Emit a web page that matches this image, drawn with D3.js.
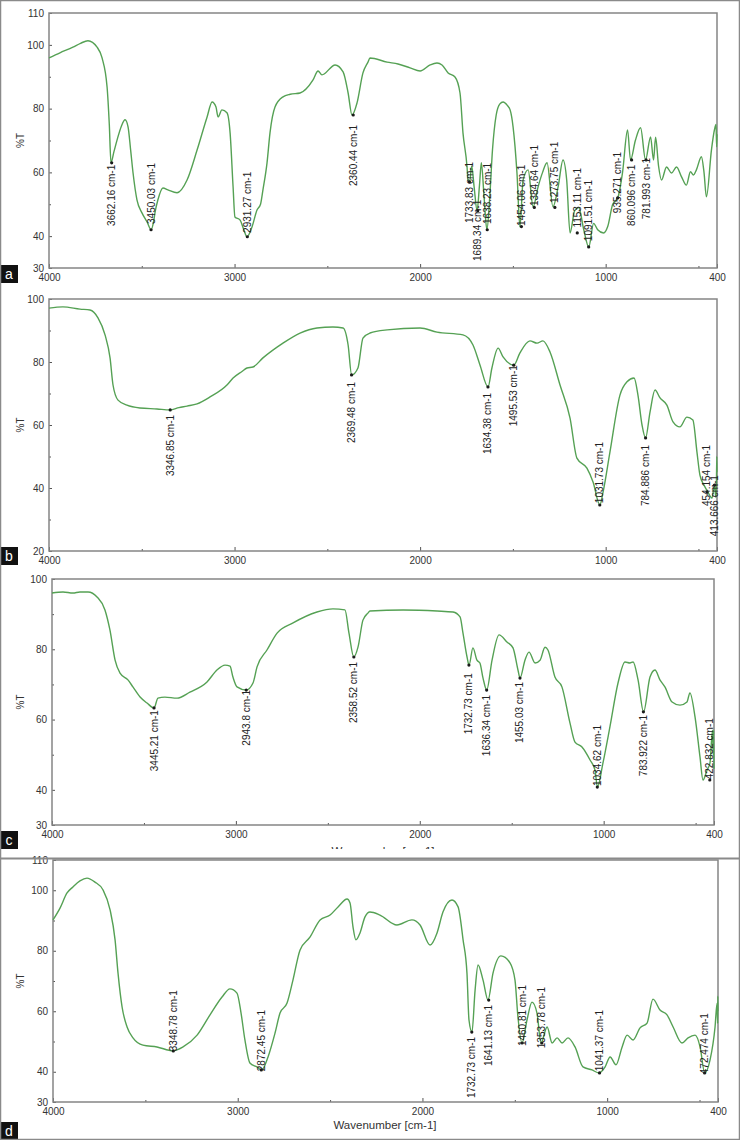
<!DOCTYPE html>
<html>
<head>
<meta charset="utf-8">
<script src="https://d3js.org/d3.v7.min.js"></script>
<style>
  body { margin: 0; background: #fff; }
  svg { display: block; font-family: "Liberation Sans", Arial, sans-serif; }
</style>
</head>
<body>
<div id="chart"></div>
<script>
// spectra: [wavenumber cm-1, %T]
var specA = [[4000,95.9],[3941,97.5],[3871,99.3],[3830,100.5],[3790,101.3],[3741,99.3],[3714,95.9],[3687,86.8],[3675,75],[3666,63],[3650,66.5],[3633,70.2],[3610,74.5],[3590,76.5],[3574,74.3],[3560,67],[3547,59.8],[3526,51.4],[3499,47.3],[3472,44.5],[3450,42],[3435,45],[3429,47.3],[3413,51.4],[3386,55.1],[3359,54.5],[3310,53.6],[3256,57.6],[3202,67],[3148,77.4],[3121,82.1],[3100,80.5],[3089,77.4],[3068,79.6],[3041,78.7],[3024,72.4],[3008,55.5],[2998,46],[2971,45.1],[2950,42],[2933,39.8],[2906,42.9],[2879,48.2],[2860,50],[2847,54.5],[2825,63],[2809,72.4],[2782,80.5],[2739,83.7],[2700,84.5],[2647,84.9],[2577,89],[2550,91.8],[2529,90.6],[2458,93.7],[2415,91.5],[2388,84.9],[2367,78],[2340,81.8],[2308,91.2],[2281,94.6],[2270,95.9],[2178,94.6],[2119,94],[2054,92.8],[2000,91.8],[1946,93.7],[1909,94.3],[1882,93.7],[1849,91.2],[1812,89.9],[1785,84.9],[1769,72.4],[1747,61.7],[1742,57.6],[1733,57],[1722,62],[1709,55.5],[1693,48],[1680,56],[1670,63],[1655,52],[1640,42],[1625,52],[1610,67],[1590,78],[1570,81.5],[1553,82.1],[1530,81],[1515,79.6],[1499,74.3],[1478,59.8],[1462,42.9],[1445,57.6],[1418,60.8],[1391,49.2],[1364,55.5],[1340,60],[1316,63],[1284,49.2],[1256,55.5],[1230,63.9],[1210,57.6],[1192,41],[1167,48],[1145,49],[1118,42],[1091,36.6],[1065,44],[1043,42],[1011,41],[989,43],[962,50],[935,52],[909,60],[882,73.3],[866,63.9],[840,70],[812,74],[785,63.9],[758,71.1],[742,63.9],[731,71],[715,62],[699,57.6],[672,61.7],[645,59.8],[618,61.7],[591,58.6],[565,56],[543,60.2],[527,59.2],[511,60.8],[484,64.9],[470,60],[457,52.3],[430,67],[414,73.3],[405,75],[402,68],[400,72]];

var specB = [[4000,97.1],[3925,97.5],[3833,96.8],[3779,96.5],[3736,94],[3698,88.6],[3671,81.3],[3655,72.7],[3628,67.9],[3580,66.3],[3510,65.4],[3418,65.1],[3348,64.8],[3300,65.5],[3256,66],[3202,66.7],[3132,68.9],[3041,72.7],[3008,74.9],[2960,77],[2933,78.1],[2901,78.4],[2847,81.3],[2739,86],[2647,89.2],[2556,90.8],[2470,91.1],[2415,90.8],[2388,85.4],[2369,75.9],[2335,78.1],[2308,87.6],[2270,89.2],[2178,90.2],[2000,90.8],[1909,89.5],[1769,88.6],[1715,85.4],[1677,79],[1634,72.1],[1613,78.1],[1580,84.4],[1553,81.6],[1495,79],[1462,82.9],[1408,86.7],[1370,86],[1338,86.7],[1300,83.2],[1246,72.7],[1192,62.2],[1155,49.5],[1101,46.3],[1068,41.9],[1031,34.6],[1014,38.7],[977,51.4],[923,69.5],[885,73.7],[847,74.9],[826,69.5],[804,60],[785,55.9],[761,64.1],[734,71.1],[707,68.6],[670,66.3],[637,61],[600,59.4],[562,62.5],[530,61.6],[508,51.4],[492,44.1],[470,40.9],[449,38.7],[427,36.8],[414,40.9],[406,37],[403,42],[401,50],[400,45]];

var specC = [[4000,96],[3940,96.3],[3886,96],[3848,96.3],[3804,96.3],[3755,94.9],[3712,91.2],[3685,85.5],[3657,76.9],[3630,73.2],[3587,71.3],[3560,69.3],[3521,66.4],[3483,64.7],[3445,63.3],[3424,66.1],[3386,66.4],[3320,66.1],[3250,67.8],[3157,70.7],[3103,74.1],[3059,75.5],[3032,75.2],[3016,72.1],[2994,69.3],[2944,68.4],[2907,70.4],[2885,75],[2831,79.8],[2776,84.6],[2689,87.5],[2559,90.6],[2472,91.5],[2407,91.2],[2385,84.6],[2359,77.8],[2336,80.6],[2309,88.3],[2282,90.3],[2271,90.9],[2091,91.2],[1906,90.9],[1819,90.6],[1781,89.2],[1765,84.6],[1743,77.8],[1732,75.5],[1711,80.4],[1689,76.9],[1673,76.1],[1656,71.8],[1636,68.4],[1607,76.9],[1569,84.1],[1526,82.1],[1493,80.4],[1466,74.1],[1455,71.8],[1428,76.9],[1406,79.2],[1373,76.1],[1346,76.9],[1319,80.6],[1303,79.8],[1265,72.1],[1227,69.3],[1183,59],[1156,53.6],[1118,52.2],[1074,48.5],[1047,45.6],[1034,40.8],[1004,47.6],[966,57.9],[922,70.4],[884,76.4],[857,76.1],[840,76.4],[813,71.3],[783,62.2],[748,72.1],[721,74.1],[694,71.3],[667,69.3],[628,65],[585,64.1],[547,65],[531,67.6],[503,60.7],[476,49.3],[460,42.8],[438,45.6],[422,47.6],[408,57],[404,50],[402,57],[400,46]];

var specD = [[4000,90.2],[3962,94.1],[3924,99.1],[3892,101.1],[3854,103.1],[3816,104],[3773,102.7],[3729,100.1],[3691,93.5],[3664,83.6],[3648,72.6],[3626,61.4],[3599,54.8],[3567,51.2],[3513,48.8],[3437,48.2],[3350,46.9],[3296,48.2],[3220,52.1],[3150,58.8],[3085,64.7],[3042,67.4],[3004,66],[2982,59.4],[2961,50.5],[2934,42.9],[2896,41.6],[2870,40.6],[2836,44.9],[2798,52.8],[2771,59.4],[2733,62.7],[2701,70.3],[2663,80.2],[2609,84.5],[2554,90.2],[2500,91.8],[2457,94.5],[2408,97.1],[2392,95.8],[2376,87.9],[2360,83.6],[2338,85.9],[2311,91.2],[2284,92.8],[2230,91.8],[2138,88.5],[2057,90.2],[2013,88.5],[1959,81.9],[1921,85.9],[1889,92.8],[1840,96.8],[1807,94.5],[1780,83.6],[1759,72.6],[1748,57.1],[1732,53.1],[1715,67],[1699,75.3],[1672,70.3],[1645,63.7],[1618,72.6],[1575,78.3],[1526,76],[1499,70.3],[1483,58.1],[1461,49.5],[1434,57.1],[1407,63],[1380,59.4],[1358,49.5],[1325,54.8],[1298,49.5],[1271,51.2],[1244,49.5],[1212,51.2],[1174,48.2],[1131,41.6],[1082,40.6],[1044,39.6],[1011,41.6],[984,44.9],[952,42.3],[919,48.2],[892,52.1],[860,50.5],[822,54.5],[784,56.1],[752,64],[714,60.4],[676,58.8],[643,54.8],[595,49.5],[562,51.2],[524,52.1],[497,48.2],[472,39.6],[443,43.9],[416,54.8],[405,62.7],[402,56],[401,65],[400,60]];

// peak labels: [wavenumber, %T at marker, %T at top of text, text]
var peaksA = [[3662.16,63,62.4,"3662.16 cm-1"],[3450.03,42,63,"3450.03 cm-1"],[2931.27,39.8,60.2,"2931.27 cm-1"],[2360.44,78,74.9,"2360.44 cm-1"],[1733.83,57,63.3,"1733.83 cm-1"],[1689.34,48,51.4,"1689.34 cm-1"],[1638.23,42,63,"1638.23 cm-1"],[1454.06,43,62.4,"1454.06 cm-1"],[1384.64,49,68.6,"1384.64 cm-1"],[1273.75,49,69.6,"1273.75 cm-1"],[1153.11,41,61.4,"1153.11 cm-1"],[1091.51,36.6,57.6,"1091.51 cm-1"],[935.271,52,66.4,"935.271 cm-1"],[860.096,63.9,62.4,"860.096 cm-1"],[781.993,63.9,64.5,"781.993 cm-1"]];
var peaksB = [[3346.85,64.8,63.2,"3346.85 cm-1"],[2369.48,75.9,73.7,"2369.48 cm-1"],[1634.38,72.1,70.2,"1634.38 cm-1"],[1495.53,79,79,"1495.53 cm-1"],[1031.73,34.6,54.6,"1031.73 cm-1"],[784.886,55.9,53.7,"784.886 cm-1"],[454.154,38.7,53.7,"454.154 cm-1"],[413.666,40.9,44.1,"413.666 cm-1"]];
var peaksC = [[3445.21,63.3,62.7,"3445.21 cm-1"],[2943.8,68.4,68.4,"2943.8 cm-1"],[2358.52,77.8,76.4,"2358.52 cm-1"],[1732.73,75.5,73.2,"1732.73 cm-1"],[1636.34,68.4,67,"1636.34 cm-1"],[1455.03,71.8,70.7,"1455.03 cm-1"],[1034.62,40.8,58.5,"1034.62 cm-1"],[783.922,62.2,61.3,"783.922 cm-1"],[422.832,42.8,60.4,"422.832 cm-1"]];
var peaksD = [[3348.78,46.9,67,"3348.78 cm-1"],[2872.45,40.6,60.4,"2872.45 cm-1"],[1732.73,53.1,51.5,"1732.73 cm-1"],[1641.13,63.7,62.1,"1641.13 cm-1"],[1460.81,49.5,68.7,"1460.81 cm-1"],[1353.78,49.5,68,"1353.78 cm-1"],[1041.37,39.6,60.4,"1041.37 cm-1"],[472.474,39.6,59.4,"472.474 cm-1"]];

var xTicks = [4000, 3000, 2000, 1000, 400];
var xMinor = [3500, 2500, 1500, 500];
var yTicksA = [30, 40, 60, 80, 100, 110], yMinorA = [50, 70, 90];
var yTicksB = [20, 40, 60, 80, 100], yMinorB = [30, 50, 70, 90];
var yTicksC = [30, 40, 60, 80, 100], yMinorC = [50, 70, 90];
var yTicksD = [30, 40, 60, 80, 100, 110], yMinorD = [50, 70, 90];
var letters = ["a", "b", "c", "d"];

var W = 740, H = 1140;
var green = "#55a154";

var svg = d3.select("#chart").append("svg")
    .attr("width", W)
    .attr("height", H);

svg.append("rect").attr("width", W).attr("height", H).attr("fill", "#fff");

var defs = svg.append("defs");
defs.append("clipPath").attr("id", "clipC")
    .append("rect").attr("x", 0).attr("y", 560).attr("width", W).attr("height", 289);

function drawPanel(p) {
    var x = d3.scaleLinear().domain([4000, 400]).range([p.left, p.right]);
    var y = d3.scaleLinear().domain(p.yDomain).range([p.bottom, p.top]);
    var g = svg.append("g").attr("class", "panel");

    // y axis (ticks inside, labels outside)
    g.append("g")
        .attr("transform", "translate(" + p.left + ",0)")
        .call(d3.axisLeft(y).tickValues(p.yTicks).tickSizeInner(-3).tickSizeOuter(0).tickPadding(5));
    g.append("g")
        .attr("transform", "translate(" + p.left + ",0)")
        .call(d3.axisLeft(y).tickValues(p.yMinor).tickFormat("").tickSizeInner(-2).tickSizeOuter(0));

    g.append("g")
        .attr("transform", "translate(0," + p.bottom + ")")
        .call(d3.axisBottom(x).tickValues(xTicks).tickFormat(d3.format("d"))
            .tickSizeInner(-4).tickSizeOuter(0).tickPadding(6));
    g.append("g")
        .attr("transform", "translate(0," + p.bottom + ")")
        .call(d3.axisBottom(x).tickValues(xMinor).tickFormat("").tickSizeInner(-2).tickSizeOuter(0));

    g.selectAll(".domain").remove();
    g.selectAll(".tick line").attr("stroke", "#555");
    g.selectAll(".tick text")
        .attr("fill", "#333")
        .style("font-size", "10px")
        .style("font-family", "'Liberation Sans', Arial, sans-serif");

    // frame
    g.append("rect")
        .attr("x", p.left).attr("y", p.top)
        .attr("width", p.right - p.left).attr("height", p.bottom - p.top)
        .attr("fill", "none").attr("stroke", "#858585").attr("stroke-width", 1.5);

    // %T
    g.append("text")
        .attr("transform", "translate(20," + ((p.top + p.bottom) / 2) + ")rotate(-90)")
        .attr("text-anchor", "middle")
        .attr("dy", "0.35em")
        .style("font-size", "10px")
        .attr("fill", "#333")
        .text("%T");

    // spectrum
    var line = d3.line()
        .x(function(d) { return x(d[0]); })
        .y(function(d) { return y(d[1]); })
        .curve(d3.curveMonotoneX);
    g.append("path")
        .datum(p.spec)
        .attr("d", line)
        .attr("fill", "none")
        .attr("stroke", green)
        .attr("stroke-width", 1.4)
        .attr("stroke-linejoin", "round");

    // peak markers and labels
    g.selectAll(".mark")
        .data(p.peaks)
        .enter()
        .append("circle")
        .attr("cx", function(d) { return x(d[0]); })
        .attr("cy", function(d) { return y(d[1]); })
        .attr("r", 1.6)
        .attr("fill", "#1a1a1a");
    g.selectAll(".plabel")
        .data(p.peaks)
        .enter()
        .append("text")
        .attr("transform", function(d) {
            return "translate(" + x(d[0]) + "," + y(d[2]) + ")rotate(-90)";
        })
        .attr("text-anchor", "end")
        .attr("dy", "0.35em")
        .style("font-size", "10px")
        .attr("fill", "#222")
        .text(function(d) { return d[3]; });

    // panel letter
    g.append("rect")
        .attr("x", 0).attr("y", p.letterY)
        .attr("width", 18).attr("height", 18)
        .attr("fill", "#111");
    g.append("text")
        .attr("x", 9).attr("y", p.letterY + 9)
        .attr("text-anchor", "middle")
        .attr("dy", "0.35em")
        .attr("fill", "#fff")
        .style("font-size", "14px")
        .text(p.letter);
    return g;
}

drawPanel({left: 49, right: 717, top: 13, bottom: 268, yDomain: [30, 110],
    yTicks: yTicksA, yMinor: yMinorA, spec: specA, peaks: peaksA, letter: letters[0], letterY: 265});
drawPanel({left: 49, right: 717, top: 299, bottom: 551, yDomain: [20, 100],
    yTicks: yTicksB, yMinor: yMinorB, spec: specB, peaks: peaksB, letter: letters[1], letterY: 547});
drawPanel({left: 52, right: 714, top: 579, bottom: 825, yDomain: [30, 100],
    yTicks: yTicksC, yMinor: yMinorC, spec: specC, peaks: peaksC, letter: letters[2], letterY: 831});
drawPanel({left: 53, right: 718, top: 860, bottom: 1102, yDomain: [30, 110],
    yTicks: yTicksD, yMinor: yMinorD, spec: specD, peaks: peaksD, letter: letters[3], letterY: 1122});

// x axis title of panel c, mostly hidden under panel d
svg.append("text")
    .attr("clip-path", "url(#clipC)")
    .attr("x", 383).attr("y", 855)
    .attr("text-anchor", "middle")
    .style("font-size", "11.5px")
    .attr("fill", "#333")
    .text("Wavenumber [cm-1]");

svg.append("text")
    .attr("x", 385).attr("y", 1129)
    .attr("text-anchor", "middle")
    .style("font-size", "11.5px")
    .attr("fill", "#333")
    .text("Wavenumber [cm-1]");

// separator and outer border
svg.append("line")
    .attr("x1", 0).attr("x2", W).attr("y1", 858.5).attr("y2", 858.5)
    .attr("stroke", "#8a8a8a").attr("stroke-width", 2);
svg.append("rect")
    .attr("x", 0.5).attr("y", 0.5).attr("width", W - 1).attr("height", H - 1)
    .attr("fill", "none").attr("stroke", "#8a8a8a").attr("stroke-width", 1.5);
</script>
</body>
</html>
